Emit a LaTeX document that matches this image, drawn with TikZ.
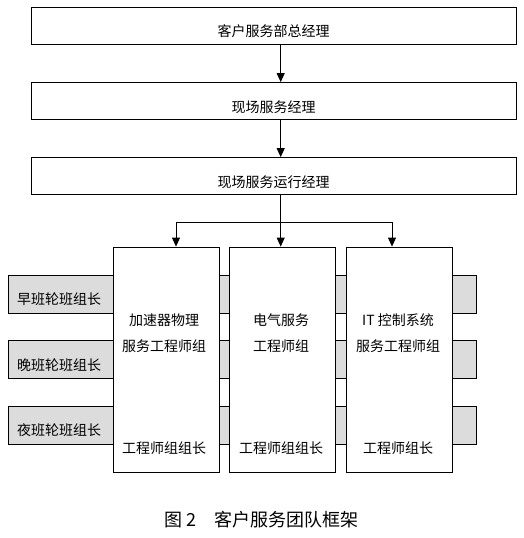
\documentclass[tikz,border=0pt]{standalone}
\usepackage{fontspec}
\setmainfont{Noto Sans CJK SC}
\usetikzlibrary{arrows.meta}
\definecolor{barfill}{HTML}{DCDCDC}
\newcommand\boxfont{\fontsize{14}{26}\selectfont}
\newcommand\capfont{\fontsize{18}{22}\selectfont}

\begin{document}
\begin{tikzpicture}[x=1pt,y=-1pt,line width=0.8pt,
  every node/.style={font=\boxfont,inner sep=0pt},
  headbox/.style={draw,minimum width=485pt,minimum height=37pt,text height=24pt,text depth=2pt},
  colbox/.style={draw,fill=white,minimum width=106pt,minimum height=225pt},
  shiftbar/.style={draw,fill=barfill,minimum width=468pt,minimum height=38pt},
  arr/.style={-{Triangle[length=9pt,width=8pt]}}]
\useasboundingbox (0,0) rectangle (523,538);
% management chain
\node[headbox] (gm) at (273.5,25.5) {客户服务部总经理};
\node[headbox] (site) at (273.5,101) {现场服务经理};
\node[headbox] (ops) at (273.5,176) {现场服务运行经理};
\draw[arr] (gm.south -| 280.7,0) -- (site.north -| 280.7,0);
\draw[arr] (site.south -| 280.7,0) -- (ops.north -| 280.7,0);
% shift leaders behind the groups
\node[shiftbar] (early) at (242,294) {};
\node[shiftbar] (late) at (242,359.5) {};
\node[shiftbar] (night) at (242,425.5) {};
\node[anchor=west] at ([xshift=9pt,yshift=-5pt]early.west) {早班轮班组长};
\node[anchor=west] at ([xshift=9pt,yshift=-6pt]late.west) {晚班轮班组长};
\node[anchor=west] at ([xshift=9pt,yshift=-5pt]night.west) {夜班轮班组长};
% engineer groups
\node[colbox] (accel) at (166,359.5) {};
\node[colbox] (elec) at (282.5,359.5) {};
\node[colbox] (itctl) at (399.5,359.5) {};
\node[align=center] (acceltitle) at (164,333) {加速器物理\\服务工程师组};
\node[align=center] (electitle) at (281,333) {电气服务\\工程师组};
\node[align=center] (itctltitle) at (398,333) {IT 控制系统\\服务工程师组};
\node (accellead) at (164,448) {工程师组组长};
\node (eleclead) at (281,448) {工程师组组长};
\node (itctllead) at (398,448) {工程师组长};
\coordinate (branch) at (280.7,222);
\draw[arr] (ops.south -| 280.7,0) -- (elec.north -| 280.7,0);
\draw[arr] (branch) -| ([xshift=10pt]accel.north);
\draw[arr] (branch) -| ([xshift=-7.5pt]itctl.north);
\node[font=\capfont] (caption) at (261.5,520) {图 2\quad 客户服务团队框架};
\end{tikzpicture}
\end{document}
